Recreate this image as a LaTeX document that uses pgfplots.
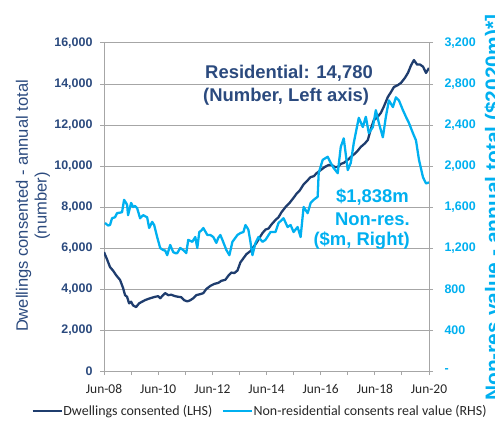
\documentclass[border=0pt]{standalone}
\usepackage{pgfplots}
\pgfplotsset{compat=1.18}
\usepackage{fontspec}
\setmainfont{Liberation Sans}
\newfontfamily\calibri{Carlito}
\definecolor{dark}{HTML}{1F3D6E}
\definecolor{darktxt}{HTML}{2B4A7E}
\definecolor{light}{HTML}{00B0F0}
\definecolor{gridc}{HTML}{A6A6A6}
\pgfplotstableread{
t v
2008.500 5800
2008.611 5450
2008.722 5070
2008.833 4900
2008.944 4680
2009.093 4440
2009.204 4050
2009.278 3700
2009.352 3620
2009.426 3300
2009.500 3380
2009.574 3200
2009.685 3120
2009.796 3300
2009.907 3380
2010.019 3460
2010.204 3550
2010.389 3620
2010.500 3650
2010.574 3550
2010.685 3700
2010.759 3800
2010.870 3700
2010.981 3720
2011.130 3650
2011.241 3620
2011.352 3600
2011.463 3450
2011.574 3400
2011.685 3450
2011.796 3550
2011.907 3700
2012.056 3750
2012.167 3800
2012.278 4000
2012.426 4150
2012.574 4250
2012.722 4300
2012.833 4400
2012.981 4450
2013.093 4650
2013.204 4800
2013.315 4780
2013.426 4900
2013.537 5300
2013.648 5500
2013.759 5700
2013.907 5850
2014.019 6050
2014.130 6250
2014.241 6500
2014.352 6730
2014.463 6900
2014.574 6950
2014.685 7150
2014.833 7370
2014.944 7500
2015.056 7750
2015.204 8000
2015.352 8200
2015.500 8450
2015.611 8650
2015.722 8800
2015.870 9100
2015.981 9250
2016.130 9460
2016.241 9500
2016.352 9650
2016.500 9800
2016.648 9950
2016.796 10050
2016.907 10050
2017.019 9950
2017.130 9950
2017.241 10100
2017.352 10150
2017.500 10300
2017.611 10440
2017.759 10600
2017.870 10750
2017.981 10930
2018.130 11100
2018.241 11270
2018.352 11800
2018.463 12240
2018.574 12350
2018.722 12590
2018.833 12900
2018.981 13370
2019.093 13600
2019.204 13850
2019.352 13950
2019.463 14050
2019.611 14300
2019.722 14540
2019.833 14900
2019.944 15170
2020.056 14950
2020.167 14950
2020.278 14850
2020.389 14540
2020.500 14780
}\dwell
\pgfplotstableread{
t v
2008.537 1444
2008.648 1420
2008.722 1424
2008.796 1490
2008.907 1500
2008.981 1540
2009.093 1545
2009.167 1550
2009.241 1670
2009.315 1640
2009.352 1620
2009.389 1520
2009.463 1600
2009.500 1640
2009.574 1600
2009.648 1610
2009.722 1590
2009.833 1490
2009.944 1520
2010.019 1510
2010.093 1500
2010.167 1395
2010.278 1455
2010.352 1424
2010.463 1307
2010.574 1200
2010.685 1180
2010.759 1175
2010.833 1130
2010.944 1230
2011.056 1160
2011.130 1150
2011.204 1150
2011.315 1200
2011.426 1180
2011.537 1150
2011.611 1280
2011.685 1270
2011.759 1260
2011.870 1307
2011.944 1200
2012.019 1356
2012.093 1370
2012.167 1395
2012.315 1327
2012.426 1327
2012.537 1307
2012.648 1250
2012.722 1300
2012.796 1327
2012.870 1280
2012.944 1230
2013.019 1180
2013.130 1130
2013.241 1260
2013.352 1300
2013.426 1327
2013.537 1346
2013.648 1356
2013.722 1424
2013.796 1395
2013.833 1376
2013.907 1260
2013.981 1130
2014.093 1250
2014.204 1307
2014.352 1260
2014.463 1280
2014.648 1356
2014.833 1356
2014.944 1444
2015.130 1490
2015.278 1405
2015.389 1424
2015.500 1356
2015.648 1405
2015.759 1307
2015.870 1600
2016.019 1540
2016.130 1640
2016.241 1670
2016.389 1700
2016.426 1930
2016.574 2060
2016.759 2090
2016.870 2030
2016.981 1980
2017.130 1930
2017.241 2185
2017.352 2270
2017.500 1960
2017.611 2030
2017.722 2225
2017.907 2470
2018.056 2380
2018.167 2480
2018.278 2320
2018.426 2380
2018.537 2545
2018.648 2420
2018.796 2280
2018.907 2480
2019.019 2640
2019.167 2575
2019.278 2670
2019.389 2640
2019.537 2545
2019.648 2480
2019.759 2420
2019.907 2320
2020.019 2250
2020.130 2060
2020.278 1890
2020.389 1830
2020.500 1840
}\nonres
\begin{document}
\begin{tikzpicture}[x=1bp,y=1bp]
\useasboundingbox (0,0) rectangle (495,428);
\begin{axis}[
  at={(104bp,57bp)}, anchor=south west,
  width=325bp, height=328bp, scale only axis,
  xmin=2008.5, xmax=2020.5, ymin=0, ymax=16000,
  scaled x ticks=false, scaled y ticks=false,
  axis x line*=bottom, axis y line*=left,
  x axis line style={-}, y axis line style={-},
  axis line style={gridc, line width=1pt},
  xtick={2008.5,2009.5,2010.5,2011.5,2012.5,2013.5,2014.5,2015.5,2016.5,2017.5,2018.5,2019.5,2020.5},
  xticklabels={Jun-08,,Jun-10,,Jun-12,,Jun-14,,Jun-16,,Jun-18,,Jun-20},
  ytick={0,2000,4000,6000,8000,10000,12000,14000,16000},
  yticklabels={0,{2,000},{4,000},{6,000},{8,000},{10,000},{12,000},{14,000},{16,000}},
  ymajorgrids, grid style={gridc, line width=1pt},
  tick style={gridc, line width=1pt}, major tick length=4bp, tick align=outside,
  yticklabel style={font=\bfseries\fontsize{12.5}{14}\selectfont, text=darktxt, xshift=-4bp},
  xticklabel style={font=\calibri\fontsize{13.5}{15}\selectfont, text=black!85, yshift=-6bp},
  legend style={at={(0.478,-0.122)}, anchor=center, draw=none, fill=none,
    legend columns=2, font=\calibri\fontsize{14}{16}\selectfont, text=black!85,
    nodes={inner xsep=0.5bp},
    /tikz/every even column/.append style={column sep=9bp}},
  legend image code/.code={\draw[#1] (0bp,0bp) -- (29bp,0bp);},
  legend cell align=left,
]
\addplot[dark, line width=2.3pt, line join=round] table[x=t,y=v] {\dwell};
\addlegendentry{Dwellings consented (LHS)}
\addlegendimage{light, line width=2.3pt}
\addlegendentry{Non-residential consents real value (RHS)}
\end{axis}
\begin{axis}[
  at={(104bp,57bp)}, anchor=south west,
  width=325bp, height=328bp, scale only axis,
  xmin=2008.5, xmax=2020.5, ymin=0, ymax=3200,
  scaled x ticks=false, scaled y ticks=false,
  axis x line=none, axis y line*=right,
  y axis line style={-},
  axis line style={gridc, line width=1pt},
  ytick={0,400,800,1200,1600,2000,2400,2800,3200},
  yticklabels={{-},400,800,{1,200},{1,600},{2,000},{2,400},{2,800},{3,200}},
  tick style={gridc, line width=1pt}, major tick length=4bp, tick align=outside,
  yticklabel style={font=\bfseries\fontsize{12.5}{14}\selectfont, text=light, xshift=8bp},
]
\addplot[light, line width=2.3pt, line join=round] table[x=t,y=v] {\nonres};
\end{axis}
\node[rotate=90, align=center, text=darktxt, font=\fontsize{16.6}{19}\selectfont] at (33,222)
  {Dwellings consented - annual total\\(number)};
\node[rotate=90, anchor=base west, text=light, font=\bfseries\fontsize{21}{24}\selectfont, inner sep=0pt] at (500,27)
  {Non-res value - annual total (\$2020m)*]};
\node[anchor=base west, text=darktxt, font=\bfseries\fontsize{18.5}{21}\selectfont, inner sep=0pt] at (205,350) {Residential: 14,780};
\node[anchor=base west, text=darktxt, font=\bfseries\fontsize{18.5}{21}\selectfont, inner sep=0pt] at (203,327) {(Number, Left axis)};
\node[anchor=base east, text=light, font=\bfseries\fontsize{18.5}{21}\selectfont, inner sep=0pt] at (409,226) {\$1,838m};
\node[anchor=base east, text=light, font=\bfseries\fontsize{18.5}{21}\selectfont, inner sep=0pt] at (410,203) {Non-res.};
\node[anchor=base east, text=light, font=\bfseries\fontsize{18.5}{21}\selectfont, inner sep=0pt] at (410,183) {(\$m, Right)};
\end{tikzpicture}
\end{document}
